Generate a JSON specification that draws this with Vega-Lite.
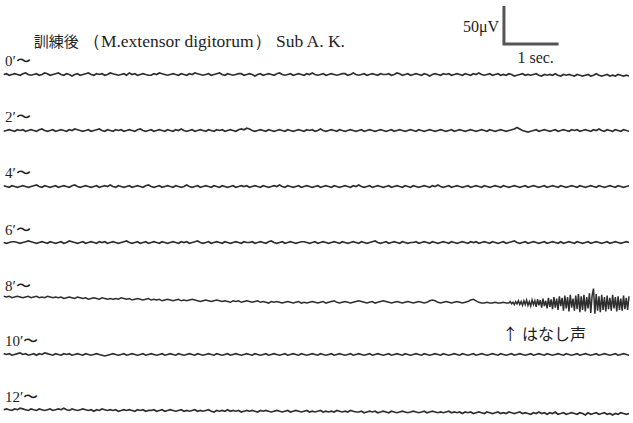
{
  "$schema": "https://vega.github.io/schema/vega-lite/v6.json",
  "width": 633,
  "height": 423,
  "autosize": {"type": "fit", "contains": "padding"},
  "padding": 0,
  "background": "white",
  "config": {"view": {"stroke": null}, "text": {"font": "Liberation Serif", "color": "#1e1e1e"}, "line": {"invalid": "filter"}},
  "datasets": {
    "emg": [
      {"t":0.05,"a":0,"b":-1,"c":1,"d":0,"e":3,"f":1,"g":1},
      {"t":0.1,"a":1,"b":0,"c":0,"d":-1,"e":2,"f":0,"g":2},
      {"t":0.15,"a":-1,"b":1,"c":-1,"d":0,"e":3,"f":1,"g":1},
      {"t":0.2,"a":0,"b":0,"c":1,"d":1,"e":1,"f":-1,"g":0},
      {"t":0.25,"a":1,"b":-1,"c":0,"d":1,"e":2,"f":0,"g":2},
      {"t":0.3,"a":0,"b":1,"c":-1,"d":0,"e":3,"f":1,"g":1},
      {"t":0.35,"a":-1,"b":0,"c":0,"d":-1,"e":2,"f":2,"g":3},
      {"t":0.4,"a":1,"b":1,"c":1,"d":0,"e":1,"f":0,"g":2},
      {"t":0.45,"a":2,"b":-1,"c":0,"d":1,"e":2,"f":1,"g":1},
      {"t":0.5,"a":0,"b":0,"c":-1,"d":2,"e":3,"f":-1,"g":0},
      {"t":0.55,"a":-1,"b":1,"c":0,"d":1,"e":1,"f":0,"g":2},
      {"t":0.6,"a":0,"b":0,"c":1,"d":0,"e":2,"f":1,"g":1},
      {"t":0.65,"a":1,"b":-1,"c":2,"d":-1,"e":3,"f":-1,"g":0},
      {"t":0.7,"a":-1,"b":1,"c":0,"d":0,"e":1,"f":1,"g":2},
      {"t":0.75,"a":0,"b":2,"c":-1,"d":1,"e":2,"f":0,"g":1},
      {"t":0.8,"a":2,"b":0,"c":1,"d":0,"e":1,"f":2,"g":0},
      {"t":0.85,"a":1,"b":-1,"c":0,"d":-1,"e":3,"f":1,"g":1},
      {"t":0.9,"a":-1,"b":0,"c":-1,"d":1,"e":2,"f":0,"g":2},
      {"t":0.95,"a":0,"b":1,"c":0,"d":0,"e":1,"f":-1,"g":0},
      {"t":1.0,"a":1,"b":-1,"c":1,"d":-1,"e":2,"f":1,"g":1},
      {"t":1.05,"a":2,"b":0,"c":-1,"d":0,"e":1,"f":0,"g":2},
      {"t":1.1,"a":0,"b":1,"c":0,"d":1,"e":2,"f":-1,"g":1},
      {"t":1.15,"a":-1,"b":0,"c":1,"d":-1,"e":0,"f":1,"g":3},
      {"t":1.2,"a":1,"b":-1,"c":0,"d":0,"e":1,"f":0,"g":1},
      {"t":1.25,"a":0,"b":1,"c":-1,"d":2,"e":2,"f":1,"g":0},
      {"t":1.3,"a":-2,"b":0,"c":1,"d":1,"e":1,"f":-1,"g":2},
      {"t":1.35,"a":0,"b":2,"c":2,"d":0,"e":0,"f":0,"g":1},
      {"t":1.4,"a":1,"b":1,"c":0,"d":-1,"e":2,"f":1,"g":0},
      {"t":1.45,"a":-1,"b":0,"c":-1,"d":0,"e":1,"f":0,"g":1},
      {"t":1.5,"a":0,"b":-1,"c":0,"d":1,"e":0,"f":-1,"g":2},
      {"t":1.55,"a":1,"b":0,"c":1,"d":-1,"e":1,"f":1,"g":1},
      {"t":1.6,"a":2,"b":1,"c":0,"d":0,"e":-1,"f":0,"g":0},
      {"t":1.65,"a":0,"b":-1,"c":-1,"d":1,"e":0,"f":-1,"g":1},
      {"t":1.7,"a":-1,"b":0,"c":0,"d":0,"e":1,"f":0,"g":-1},
      {"t":1.75,"a":1,"b":1,"c":1,"d":-1,"e":0,"f":1,"g":1},
      {"t":1.8,"a":0,"b":2,"c":-1,"d":1,"e":-1,"f":0,"g":0},
      {"t":1.85,"a":1,"b":0,"c":0,"d":0,"e":1,"f":-1,"g":2},
      {"t":1.9,"a":-1,"b":-1,"c":1,"d":1,"e":0,"f":-2,"g":1},
      {"t":1.95,"a":0,"b":1,"c":0,"d":-1,"e":-1,"f":-1,"g":0},
      {"t":2.0,"a":2,"b":0,"c":2,"d":0,"e":0,"f":0,"g":1},
      {"t":2.05,"a":1,"b":-1,"c":0,"d":1,"e":-1,"f":1,"g":0},
      {"t":2.1,"a":0,"b":1,"c":-1,"d":0,"e":0,"f":0,"g":1},
      {"t":2.15,"a":-1,"b":0,"c":1,"d":-1,"e":-1,"f":-1,"g":-1},
      {"t":2.2,"a":0,"b":1,"c":0,"d":0,"e":1,"f":0,"g":0},
      {"t":2.25,"a":1,"b":-1,"c":-1,"d":1,"e":0,"f":1,"g":1},
      {"t":2.3,"a":-1,"b":0,"c":0,"d":2,"e":-1,"f":-1,"g":0},
      {"t":2.35,"a":2,"b":1,"c":1,"d":0,"e":0,"f":0,"g":1},
      {"t":2.4,"a":0,"b":0,"c":-1,"d":-1,"e":-2,"f":1,"g":0},
      {"t":2.45,"a":1,"b":-1,"c":0,"d":0,"e":-1,"f":0,"g":-1},
      {"t":2.5,"a":-1,"b":1,"c":1,"d":1,"e":0,"f":-1,"g":1},
      {"t":2.55,"a":0,"b":2,"c":0,"d":-1,"e":-1,"f":0,"g":0},
      {"t":2.6,"a":1,"b":0,"c":-1,"d":0,"e":-2,"f":1,"g":1},
      {"t":2.65,"a":0,"b":-1,"c":1,"d":1,"e":-1,"f":-1,"g":-1},
      {"t":2.7,"a":-1,"b":0,"c":2,"d":-1,"e":0,"f":0,"g":0},
      {"t":2.75,"a":-1,"b":1,"c":0,"d":0,"e":-2,"f":1,"g":0},
      {"t":2.8,"a":1,"b":-1,"c":-1,"d":1,"e":-1,"f":0,"g":1},
      {"t":2.85,"a":0,"b":0,"c":0,"d":0,"e":-2,"f":-1,"g":-1},
      {"t":2.9,"a":2,"b":1,"c":1,"d":-1,"e":-1,"f":0,"g":0},
      {"t":2.95,"a":1,"b":0,"c":-1,"d":1,"e":-3,"f":1,"g":1},
      {"t":3.0,"a":0,"b":-1,"c":0,"d":0,"e":-2,"f":-1,"g":-1},
      {"t":3.05,"a":-1,"b":1,"c":1,"d":-1,"e":-1,"f":0,"g":0},
      {"t":3.1,"a":0,"b":0,"c":0,"d":0,"e":-2,"f":1,"g":1},
      {"t":3.15,"a":1,"b":-1,"c":-1,"d":1,"e":-3,"f":0,"g":0},
      {"t":3.2,"a":0,"b":1,"c":1,"d":0,"e":-2,"f":-1,"g":-1},
      {"t":3.25,"a":-1,"b":0,"c":0,"d":-1,"e":-1,"f":1,"g":0},
      {"t":3.3,"a":1,"b":2,"c":-1,"d":1,"e":-3,"f":0,"g":1},
      {"t":3.35,"a":0,"b":0,"c":0,"d":0,"e":-2,"f":-1,"g":-1},
      {"t":3.4,"a":-1,"b":-1,"c":2,"d":1,"e":-3,"f":0,"g":0},
      {"t":3.45,"a":1,"b":0,"c":0,"d":-1,"e":-2,"f":1,"g":-1},
      {"t":3.5,"a":0,"b":1,"c":-1,"d":0,"e":-1,"f":0,"g":0},
      {"t":3.55,"a":2,"b":-1,"c":0,"d":1,"e":-2,"f":-1,"g":1},
      {"t":3.6,"a":1,"b":0,"c":1,"d":2,"e":-3,"f":1,"g":-1},
      {"t":3.65,"a":0,"b":1,"c":-1,"d":0,"e":-4,"f":0,"g":0},
      {"t":3.7,"a":-1,"b":0,"c":0,"d":-1,"e":-3,"f":-1,"g":-1},
      {"t":3.75,"a":0,"b":-1,"c":1,"d":0,"e":-2,"f":0,"g":0},
      {"t":3.8,"a":1,"b":1,"c":0,"d":1,"e":-3,"f":1,"g":1},
      {"t":3.85,"a":-1,"b":0,"c":-1,"d":-1,"e":-4,"f":0,"g":-1},
      {"t":3.9,"a":0,"b":-1,"c":1,"d":0,"e":-3,"f":-1,"g":-2},
      {"t":3.95,"a":1,"b":1,"c":0,"d":1,"e":-2,"f":1,"g":0},
      {"t":4.0,"a":2,"b":0,"c":-1,"d":0,"e":-3,"f":0,"g":-1},
      {"t":4.05,"a":0,"b":1,"c":1,"d":-1,"e":-4,"f":-1,"g":0},
      {"t":4.1,"a":-1,"b":-1,"c":0,"d":1,"e":-3,"f":0,"g":-1},
      {"t":4.15,"a":1,"b":0,"c":-1,"d":0,"e":-4,"f":1,"g":1},
      {"t":4.2,"a":0,"b":1,"c":0,"d":-1,"e":-5,"f":-1,"g":-1},
      {"t":4.25,"a":-1,"b":0,"c":1,"d":0,"e":-3,"f":0,"g":0},
      {"t":4.3,"a":0,"b":-1,"c":-1,"d":1,"e":-4,"f":1,"g":-1},
      {"t":4.35,"a":1,"b":1,"c":0,"d":0,"e":-3,"f":0,"g":0},
      {"t":4.4,"a":1,"b":2,"c":1,"d":-1,"e":-5,"f":-1,"g":-2},
      {"t":4.45,"a":-1,"b":1,"c":0,"d":1,"e":-4,"f":0,"g":-1},
      {"t":4.5,"a":0,"b":3,"c":1,"d":0,"e":-3,"f":1,"g":0},
      {"t":4.55,"a":1,"b":2,"c":-1,"d":0,"e":-4,"f":0,"g":-1},
      {"t":4.6,"a":0,"b":0,"c":0,"d":1,"e":-5,"f":-1,"g":0},
      {"t":4.65,"a":-2,"b":-1,"c":1,"d":-1,"e":-4,"f":1,"g":-1},
      {"t":4.7,"a":0,"b":0,"c":0,"d":0,"e":-3,"f":0,"g":-2},
      {"t":4.75,"a":1,"b":1,"c":-1,"d":1,"e":-5,"f":-1,"g":0},
      {"t":4.8,"a":-1,"b":0,"c":1,"d":0,"e":-4,"f":0,"g":-1},
      {"t":4.85,"a":0,"b":-1,"c":0,"d":-1,"e":-5,"f":1,"g":0},
      {"t":4.9,"a":1,"b":1,"c":-1,"d":1,"e":-6,"f":-1,"g":-1},
      {"t":4.95,"a":0,"b":0,"c":0,"d":2,"e":-4,"f":0,"g":-2},
      {"t":5.0,"a":-1,"b":-1,"c":1,"d":0,"e":-5,"f":1,"g":-1},
      {"t":5.05,"a":1,"b":0,"c":0,"d":-1,"e":-4,"f":0,"g":0},
      {"t":5.1,"a":2,"b":1,"c":2,"d":0,"e":-5,"f":-1,"g":-1},
      {"t":5.15,"a":0,"b":0,"c":0,"d":1,"e":-6,"f":0,"g":-2},
      {"t":5.2,"a":-1,"b":-1,"c":-1,"d":-1,"e":-5,"f":1,"g":-1},
      {"t":5.25,"a":0,"b":1,"c":1,"d":0,"e":-4,"f":-1,"g":0},
      {"t":5.3,"a":1,"b":0,"c":0,"d":1,"e":-5,"f":0,"g":-2},
      {"t":5.35,"a":-1,"b":-1,"c":-1,"d":0,"e":-6,"f":1,"g":-1},
      {"t":5.4,"a":0,"b":0,"c":0,"d":-1,"e":-5,"f":0,"g":0},
      {"t":5.45,"a":1,"b":1,"c":1,"d":0,"e":-4,"f":-1,"g":-1},
      {"t":5.5,"a":0,"b":0,"c":-1,"d":1,"e":-6,"f":1,"g":-2},
      {"t":5.55,"a":-1,"b":-1,"c":0,"d":1,"e":-5,"f":0,"g":-1},
      {"t":5.6,"a":1,"b":1,"c":1,"d":0,"e":-6,"f":-1,"g":0},
      {"t":5.65,"a":0,"b":0,"c":0,"d":-1,"e":-5,"f":0,"g":-2},
      {"t":5.7,"a":2,"b":1,"c":-1,"d":0,"e":-4,"f":1,"g":-1},
      {"t":5.75,"a":0,"b":-1,"c":0,"d":1,"e":-5,"f":0,"g":-2},
      {"t":5.8,"a":-1,"b":0,"c":1,"d":-1,"e":-6,"f":-1,"g":-1},
      {"t":5.85,"a":0,"b":2,"c":-1,"d":0,"e":-5,"f":1,"g":0},
      {"t":5.9,"a":1,"b":0,"c":0,"d":1,"e":-4,"f":0,"g":-2},
      {"t":5.95,"a":-1,"b":-1,"c":1,"d":0,"e":-6,"f":-1,"g":-1},
      {"t":6.0,"a":0,"b":0,"c":0,"d":-1,"e":-5,"f":0,"g":-2},
      {"t":6.05,"a":1,"b":1,"c":-1,"d":0,"e":-4,"f":1,"g":-1},
      {"t":6.1,"a":0,"b":0,"c":1,"d":1,"e":-3,"f":-1,"g":-2},
      {"t":6.15,"a":-1,"b":-1,"c":0,"d":0,"e":-5,"f":0,"g":0},
      {"t":6.2,"a":0,"b":1,"c":-1,"d":-1,"e":-6,"f":1,"g":-1},
      {"t":6.25,"a":1,"b":0,"c":0,"d":1,"e":-5,"f":0,"g":-2},
      {"t":6.3,"a":1,"b":-1,"c":1,"d":0,"e":-4,"f":-1,"g":-1},
      {"t":6.35,"a":-1,"b":0,"c":0,"d":-1,"e":-5,"f":0,"g":-2},
      {"t":6.4,"a":0,"b":1,"c":-1,"d":0,"e":-6,"f":1,"g":0},
      {"t":6.45,"a":2,"b":0,"c":1,"d":1,"e":-5,"f":-1,"g":-1},
      {"t":6.5,"a":0,"b":-1,"c":0,"d":0,"e":-4,"f":0,"g":-2},
      {"t":6.55,"a":-1,"b":0,"c":2,"d":-1,"e":-3,"f":1,"g":-2},
      {"t":6.6,"a":0,"b":1,"c":0,"d":1,"e":-4,"f":0,"g":-1},
      {"t":6.65,"a":1,"b":-1,"c":-1,"d":0,"e":-5,"f":-1,"g":-3},
      {"t":6.7,"a":-1,"b":0,"c":0,"d":-1,"e":-6,"f":0,"g":-2},
      {"t":6.75,"a":0,"b":1,"c":1,"d":0,"e":-5,"f":1,"g":-1},
      {"t":6.8,"a":1,"b":0,"c":-1,"d":1,"e":-4,"f":-1,"g":-2},
      {"t":6.85,"a":0,"b":-1,"c":0,"d":2,"e":-6,"f":0,"g":-1},
      {"t":6.9,"a":-1,"b":0,"c":1,"d":0,"e":-5,"f":1,"g":-3},
      {"t":6.95,"a":1,"b":1,"c":0,"d":-1,"e":-4,"f":0,"g":-2},
      {"t":7.0,"a":0,"b":0,"c":-1,"d":0,"e":-3,"f":-1,"g":-1},
      {"t":7.05,"a":0,"b":-1,"c":0,"d":1,"e":-4,"f":0,"g":-2},
      {"t":7.1,"a":1,"b":0,"c":1,"d":-1,"e":-5,"f":1,"g":-3},
      {"t":7.15,"a":-1,"b":1,"c":-1,"d":0,"e":-6,"f":-1,"g":-1},
      {"t":7.2,"a":0,"b":-1,"c":0,"d":1,"e":-5,"f":0,"g":-2},
      {"t":7.25,"a":2,"b":0,"c":1,"d":0,"e":-4,"f":1,"g":-3},
      {"t":7.3,"a":1,"b":1,"c":0,"d":-1,"e":-5,"f":0,"g":-2},
      {"t":7.35,"a":-1,"b":0,"c":-1,"d":1,"e":-6,"f":-1,"g":-1},
      {"t":7.4,"a":0,"b":-1,"c":1,"d":0,"e":-5,"f":1,"g":-2},
      {"t":7.45,"a":1,"b":0,"c":0,"d":-1,"e":-4,"f":0,"g":-3},
      {"t":7.5,"a":-1,"b":1,"c":-1,"d":0,"e":-5,"f":-1,"g":-2},
      {"t":7.55,"a":0,"b":0,"c":1,"d":0,"e":-6,"f":0,"g":-1},
      {"t":7.6,"a":1,"b":-1,"c":0,"d":1,"e":-5,"f":1,"g":-2},
      {"t":7.65,"a":0,"b":1,"c":-1,"d":-1,"e":-4,"f":0,"g":-3},
      {"t":7.7,"a":-1,"b":0,"c":0,"d":0,"e":-5,"f":-1,"g":-2},
      {"t":7.75,"a":1,"b":-1,"c":1,"d":1,"e":-6,"f":1,"g":-1},
      {"t":7.8,"a":0,"b":0,"c":0,"d":0,"e":-5,"f":0,"g":-3},
      {"t":7.85,"a":-2,"b":1,"c":-1,"d":-1,"e":-3,"f":-1,"g":-2},
      {"t":7.9,"a":0,"b":0,"c":1,"d":1,"e":-2,"f":0,"g":-1},
      {"t":7.95,"a":1,"b":-1,"c":0,"d":0,"e":-3,"f":1,"g":-2},
      {"t":8.0,"a":0,"b":0,"c":2,"d":-1,"e":-5,"f":0,"g":-3},
      {"t":8.05,"a":-1,"b":1,"c":0,"d":0,"e":-6,"f":-1,"g":-2},
      {"t":8.1,"a":1,"b":0,"c":-1,"d":1,"e":-5,"f":1,"g":-3},
      {"t":8.15,"a":0,"b":-1,"c":0,"d":0,"e":-4,"f":0,"g":-2},
      {"t":8.2,"a":1,"b":0,"c":1,"d":-1,"e":-5,"f":-1,"g":-1},
      {"t":8.25,"a":-1,"b":1,"c":-1,"d":1,"e":-6,"f":0,"g":-3},
      {"t":8.3,"a":0,"b":-1,"c":0,"d":0,"e":-5,"f":1,"g":-2},
      {"t":8.35,"a":1,"b":0,"c":1,"d":-1,"e":-4,"f":0,"g":-3},
      {"t":8.4,"a":0,"b":1,"c":0,"d":0,"e":-5,"f":-1,"g":-2},
      {"t":8.45,"a":-1,"b":0,"c":-1,"d":1,"e":-6,"f":1,"g":-4},
      {"t":8.5,"a":1,"b":-1,"c":0,"d":0,"e":-5,"f":0,"g":-2},
      {"t":8.55,"a":0,"b":0,"c":1,"d":-1,"e":-4,"f":-1,"g":-3},
      {"t":8.6,"a":-1,"b":1,"c":-1,"d":1,"e":-2,"f":0,"g":-2},
      {"t":8.65,"a":1,"b":0,"c":0,"d":0,"e":-1,"f":1,"g":-4},
      {"t":8.7,"a":0,"b":-1,"c":1,"d":1,"e":-3,"f":-1,"g":-3},
      {"t":8.75,"a":2,"b":0,"c":0,"d":-1,"e":-5,"f":0,"g":-2},
      {"t":8.8,"a":0,"b":1,"c":-1,"d":0,"e":-6,"f":1,"g":-3},
      {"t":8.85,"a":-1,"b":0,"c":1,"d":1,"e":-6,"f":0,"g":-4},
      {"t":8.9,"a":0,"b":-1,"c":0,"d":0,"e":-5,"f":-1,"g":-2},
      {"t":8.95,"a":1,"b":1,"c":-1,"d":-1,"e":-6,"f":0,"g":-3},
      {"t":9.0,"a":-1,"b":0,"c":0,"d":1,"e":-6,"f":1,"g":-4},
      {"t":9.05,"a":0,"b":-1,"c":1,"d":0,"e":-5,"f":0,"g":-3},
      {"t":9.1,"a":1,"b":0,"c":0,"d":-1,"e":-6,"f":-1,"g":-2},
      {"t":9.15,"a":-1,"b":1,"c":-1,"d":0,"e":-6,"f":1,"g":-4},
      {"t":9.2,"a":0,"b":0,"c":1,"d":1,"e":-5,"f":0,"g":-3},
      {"t":9.25,"a":-1,"b":-1,"c":0,"d":-1,"e":-6,"f":-1,"g":-4},
      {"t":9.3,"a":1,"b":0,"c":-1,"d":0,"e":-6,"f":0,"g":-2},
      {"t":9.35,"a":0,"b":1,"c":0,"d":1,"e":-7,"f":1,"g":-3},
      {"t":9.4,"a":-2,"b":2,"c":1,"d":2,"e":-8,"f":-1,"g":-4},
      {"t":9.45,"a":-1,"b":4,"c":0,"d":0,"e":-7,"f":0,"g":-3},
      {"t":9.5,"a":0,"b":2,"c":-1,"d":-1,"e":-8,"f":1,"g":-2},
      {"t":9.55,"a":1,"b":0,"c":0,"d":0,"e":-9,"f":0,"g":-4},
      {"t":9.6,"a":-1,"b":-1,"c":1,"d":1,"e":-8,"f":-1,"g":-3},
      {"t":9.65,"a":0,"b":-2,"c":-1,"d":-1,"e":-9,"f":0,"g":-4},
      {"t":9.7,"a":-1,"b":-1,"c":0,"d":0,"e":-10,"f":1,"g":-5},
      {"t":9.75,"a":0,"b":0,"c":1,"d":1,"e":-8,"f":-1,"g":-3},
      {"t":9.8,"a":1,"b":1,"c":0,"d":0,"e":-11,"f":0,"g":-4},
      {"t":9.85,"a":-1,"b":-1,"c":-1,"d":-1,"e":-9,"f":1,"g":-2},
      {"t":9.9,"a":-2,"b":0,"c":0,"d":0,"e":-12,"f":0,"g":-4},
      {"t":9.95,"a":0,"b":1,"c":1,"d":1,"e":-10,"f":-1,"g":-3},
      {"t":10.0,"a":-1,"b":0,"c":-1,"d":-1,"e":-13,"f":1,"g":-5},
      {"t":10.05,"a":0,"b":-1,"c":0,"d":0,"e":-11,"f":0,"g":-3},
      {"t":10.1,"a":-1,"b":0,"c":1,"d":1,"e":-14,"f":-1,"g":-4},
      {"t":10.15,"a":1,"b":1,"c":0,"d":0,"e":-12,"f":0,"g":-2},
      {"t":10.2,"a":-1,"b":-1,"c":-1,"d":-1,"e":-15,"f":1,"g":-5},
      {"t":10.25,"a":-2,"b":0,"c":1,"d":1,"e":-10,"f":0,"g":-4},
      {"t":10.3,"a":0,"b":1,"c":0,"d":-1,"e":-16,"f":-1,"g":-3},
      {"t":10.35,"a":-1,"b":0,"c":-1,"d":0,"e":-13,"f":1,"g":-5},
      {"t":10.4,"a":0,"b":-1,"c":0,"d":1,"e":-17,"f":0,"g":-4},
      {"t":10.45,"a":-1,"b":1,"c":1,"d":0,"e":-12,"f":-1,"g":-3},
      {"t":10.5,"a":-2,"b":0,"c":0,"d":-1,"e":-16,"f":0,"g":-4},
      {"t":10.55,"a":0,"b":1,"c":-1,"d":1,"e":-14,"f":1,"g":-5},
      {"t":10.6,"a":-1,"b":-1,"c":1,"d":0,"e":-18,"f":-1,"g":-3},
      {"t":10.65,"a":-2,"b":0,"c":0,"d":-1,"e":-15,"f":0,"g":-4},
      {"t":10.7,"a":-1,"b":1,"c":-1,"d":0,"e":-17,"f":1,"g":-6},
      {"t":10.75,"a":0,"b":0,"c":0,"d":1,"e":-13,"f":0,"g":-3},
      {"t":10.8,"a":-2,"b":-1,"c":1,"d":-1,"e":-19,"f":-1,"g":-5},
      {"t":10.85,"a":-1,"b":1,"c":0,"d":0,"e":13,"f":0,"g":-4},
      {"t":10.9,"a":1,"b":0,"c":-1,"d":1,"e":6,"f":1,"g":-3},
      {"t":10.95,"a":-1,"b":2,"c":1,"d":0,"e":3,"f":-1,"g":-5},
      {"t":11.0,"a":-2,"b":0,"c":0,"d":-1,"e":5,"f":0,"g":-4},
      {"t":11.05,"a":-1,"b":-1,"c":-1,"d":0,"e":2,"f":1,"g":-3},
      {"t":11.1,"a":0,"b":1,"c":0,"d":1,"e":4,"f":0,"g":-5},
      {"t":11.15,"a":-2,"b":0,"c":1,"d":-1,"e":1,"f":-1,"g":-4},
      {"t":11.2,"a":-1,"b":-1,"c":0,"d":0,"e":5,"f":0,"g":-6},
      {"t":11.25,"a":-2,"b":1,"c":-1,"d":1,"e":2,"f":1,"g":-4},
      {"t":11.3,"a":0,"b":0,"c":1,"d":0,"e":3,"f":-1,"g":-5},
      {"t":11.35,"a":-1,"b":-1,"c":0,"d":-1,"e":0,"f":0,"g":-3},
      {"t":11.4,"a":-2,"b":1,"c":-1,"d":0,"e":4,"f":1,"g":-4},
      {"t":11.45,"a":-1,"b":0,"c":0,"d":1,"e":1,"f":0,"g":-5},
      {"t":11.5,"a":-2,"b":-1,"c":1,"d":0,"e":3,"f":-1,"g":-4},
      {"t":9.325,"e":-4},
      {"t":9.375,"e":-5},
      {"t":9.425,"e":-4},
      {"t":9.475,"e":-3},
      {"t":9.525,"e":-4},
      {"t":9.575,"e":-3},
      {"t":9.625,"e":-2},
      {"t":9.675,"e":-4},
      {"t":9.725,"e":-2},
      {"t":9.775,"e":-3},
      {"t":9.825,"e":-1},
      {"t":9.875,"e":-2},
      {"t":9.925,"e":0},
      {"t":9.975,"e":-3},
      {"t":10.025,"e":1},
      {"t":10.075,"e":-1},
      {"t":10.125,"e":2},
      {"t":10.175,"e":0},
      {"t":10.225,"e":3},
      {"t":10.275,"e":1},
      {"t":10.325,"e":4},
      {"t":10.375,"e":2},
      {"t":10.425,"e":5},
      {"t":10.475,"e":0},
      {"t":10.525,"e":4},
      {"t":10.575,"e":6},
      {"t":10.625,"e":3},
      {"t":10.675,"e":5},
      {"t":10.725,"e":2},
      {"t":10.775,"e":7},
      {"t":10.825,"e":4},
      {"t":10.875,"e":-20},
      {"t":10.925,"e":-16},
      {"t":10.975,"e":-18},
      {"t":11.025,"e":-15},
      {"t":11.075,"e":-17},
      {"t":11.125,"e":-14},
      {"t":11.175,"e":-16},
      {"t":11.225,"e":-13},
      {"t":11.275,"e":-17},
      {"t":11.325,"e":-15},
      {"t":11.375,"e":-16},
      {"t":11.425,"e":-14},
      {"t":11.475,"e":-15}
    ],
    "labels": [
      {"k":"a","lab":"0′〜","t":0,"v":0},
      {"k":"b","lab":"2′〜","t":0,"v":0},
      {"k":"c","lab":"4′〜","t":0,"v":0},
      {"k":"d","lab":"6′〜","t":0,"v":0},
      {"k":"e","lab":"8′〜","t":0,"v":0},
      {"k":"f","lab":"10′〜","t":0,"v":0},
      {"k":"g","lab":"12′〜","t":0,"v":0}
    ],
    "bar": [
      {"t":9.21,"v":90,"o":1},
      {"t":9.21,"v":40,"o":2},
      {"t":10.21,"v":40,"o":3}
    ],
    "notes": [
      {"id":"title1","txt":"訓練後","t":0.6,"v":43},
      {"id":"title2","txt":"（M.extensor digitorum） Sub A. K.","t":1.5,"v":43},
      {"id":"amp","txt":"50μV","t":9.12,"v":63},
      {"id":"time","txt":"1 sec.","t":9.79,"v":22},
      {"id":"voice","txt":"↑ はなし声","t":9.18,"v":-48}
    ]
  },
  "encoding": {
    "x": {"field": "t", "type": "quantitative", "scale": {"domain": [0, 11.5], "nice": false, "zero": false}, "axis": null}
  },
  "layer": [
    {
      "layer": [
        {"data": {"name": "emg"}, "mark": {"type": "line", "stroke": "#2e2e2e", "strokeWidth": 1.7},
         "encoding": {"y": {"field": "a", "type": "quantitative", "scale": {"domain": [-458.6, 98], "nice": false, "zero": false}, "axis": null}}},
        {"data": {"name": "labels"}, "transform": [{"filter": "datum.k === 'a'"}],
         "mark": {"type": "text", "align": "left", "baseline": "middle", "dx": 4, "dy": -13, "fontSize": 15},
         "encoding": {"y": {"field": "v", "type": "quantitative"}, "text": {"field": "lab"}}},
        {"data": {"name": "bar"}, "mark": {"type": "line", "stroke": "#555", "strokeWidth": 3},
         "encoding": {"y": {"field": "v", "type": "quantitative"}, "order": {"field": "o"}}},
        {"data": {"name": "notes"}, "transform": [{"filter": "datum.id === 'title1'"}],
         "mark": {"type": "text", "align": "left", "baseline": "middle", "fontSize": 15, "font": "Noto Sans CJK JP"},
         "encoding": {"y": {"field": "v", "type": "quantitative"}, "text": {"field": "txt"}}},
        {"data": {"name": "notes"}, "transform": [{"filter": "datum.id === 'title2'"}],
         "mark": {"type": "text", "align": "left", "baseline": "middle", "fontSize": 17.5},
         "encoding": {"y": {"field": "v", "type": "quantitative"}, "text": {"field": "txt"}}},
        {"data": {"name": "notes"}, "transform": [{"filter": "datum.id === 'amp'"}],
         "mark": {"type": "text", "align": "right", "baseline": "middle", "fontSize": 16},
         "encoding": {"y": {"field": "v", "type": "quantitative"}, "text": {"field": "txt"}}},
        {"data": {"name": "notes"}, "transform": [{"filter": "datum.id === 'time'"}],
         "mark": {"type": "text", "align": "center", "baseline": "middle", "fontSize": 16},
         "encoding": {"y": {"field": "v", "type": "quantitative"}, "text": {"field": "txt"}}}
      ]
    },
    {
      "layer": [
        {"data": {"name": "emg"}, "mark": {"type": "line", "stroke": "#2e2e2e", "strokeWidth": 1.7},
         "encoding": {"y": {"field": "b", "type": "quantitative", "scale": {"domain": [-384.9, 171.7], "nice": false, "zero": false}, "axis": null}}},
        {"data": {"name": "labels"}, "transform": [{"filter": "datum.k === 'b'"}],
         "mark": {"type": "text", "align": "left", "baseline": "middle", "dx": 4, "dy": -13, "fontSize": 15},
         "encoding": {"y": {"field": "v", "type": "quantitative"}, "text": {"field": "lab"}}}
      ]
    },
    {
      "layer": [
        {"data": {"name": "emg"}, "mark": {"type": "line", "stroke": "#2e2e2e", "strokeWidth": 1.7},
         "encoding": {"y": {"field": "c", "type": "quantitative", "scale": {"domain": [-311.2, 245.4], "nice": false, "zero": false}, "axis": null}}},
        {"data": {"name": "labels"}, "transform": [{"filter": "datum.k === 'c'"}],
         "mark": {"type": "text", "align": "left", "baseline": "middle", "dx": 4, "dy": -13, "fontSize": 15},
         "encoding": {"y": {"field": "v", "type": "quantitative"}, "text": {"field": "lab"}}}
      ]
    },
    {
      "layer": [
        {"data": {"name": "emg"}, "mark": {"type": "line", "stroke": "#2e2e2e", "strokeWidth": 1.7},
         "encoding": {"y": {"field": "d", "type": "quantitative", "scale": {"domain": [-237.5, 319.1], "nice": false, "zero": false}, "axis": null}}},
        {"data": {"name": "labels"}, "transform": [{"filter": "datum.k === 'd'"}],
         "mark": {"type": "text", "align": "left", "baseline": "middle", "dx": 4, "dy": -13, "fontSize": 15},
         "encoding": {"y": {"field": "v", "type": "quantitative"}, "text": {"field": "lab"}}}
      ]
    },
    {
      "layer": [
        {"data": {"name": "emg"}, "mark": {"type": "line", "stroke": "#2e2e2e", "strokeWidth": 1.5},
         "encoding": {"y": {"field": "e", "type": "quantitative", "scale": {"domain": [-163.8, 392.8], "nice": false, "zero": false}, "axis": null}}},
        {"data": {"name": "labels"}, "transform": [{"filter": "datum.k === 'e'"}],
         "mark": {"type": "text", "align": "left", "baseline": "middle", "dx": 4, "dy": -13, "fontSize": 15},
         "encoding": {"y": {"field": "v", "type": "quantitative"}, "text": {"field": "lab"}}},
        {"data": {"name": "notes"}, "transform": [{"filter": "datum.id === 'voice'"}],
         "mark": {"type": "text", "align": "left", "baseline": "middle", "fontSize": 16, "font": "Noto Sans CJK JP", "fill": "#1e1e1e"},
         "encoding": {"y": {"field": "v", "type": "quantitative"}, "text": {"field": "txt"}}}
      ]
    },
    {
      "layer": [
        {"data": {"name": "emg"}, "mark": {"type": "line", "stroke": "#2e2e2e", "strokeWidth": 1.7},
         "encoding": {"y": {"field": "f", "type": "quantitative", "scale": {"domain": [-90.2, 466.4], "nice": false, "zero": false}, "axis": null}}},
        {"data": {"name": "labels"}, "transform": [{"filter": "datum.k === 'f'"}],
         "mark": {"type": "text", "align": "left", "baseline": "middle", "dx": 4, "dy": -13, "fontSize": 15},
         "encoding": {"y": {"field": "v", "type": "quantitative"}, "text": {"field": "lab"}}}
      ]
    },
    {
      "layer": [
        {"data": {"name": "emg"}, "mark": {"type": "line", "stroke": "#2e2e2e", "strokeWidth": 1.7},
         "encoding": {"y": {"field": "g", "type": "quantitative", "scale": {"domain": [-16.5, 540.1], "nice": false, "zero": false}, "axis": null}}},
        {"data": {"name": "labels"}, "transform": [{"filter": "datum.k === 'g'"}],
         "mark": {"type": "text", "align": "left", "baseline": "middle", "dx": 4, "dy": -13, "fontSize": 15},
         "encoding": {"y": {"field": "v", "type": "quantitative"}, "text": {"field": "lab"}}}
      ]
    }
  ],
  "resolve": {"scale": {"y": "independent"}}
}
